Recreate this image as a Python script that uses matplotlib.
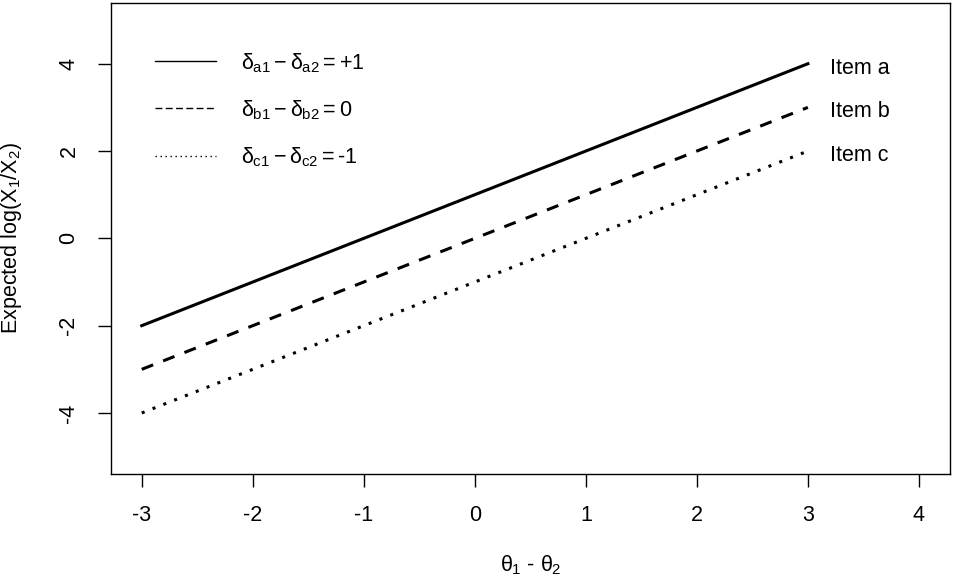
import numpy as np
import matplotlib
matplotlib.use('Agg')
import matplotlib.pyplot as plt
from matplotlib.lines import Line2D

plt.rcParams['font.family'] = ['Liberation Sans', 'DejaVu Sans']
plt.rcParams['mathtext.fontset'] = 'custom'
plt.rcParams['mathtext.rm'] = 'Liberation Sans'
plt.rcParams['mathtext.it'] = 'Liberation Sans'
plt.rcParams['mathtext.bf'] = 'Liberation Sans:bold'
plt.rcParams['axes.unicode_minus'] = False

# data
theta = [-3, -2, -1, 0, 1, 2, 3]
item_a = [-2, -1, 0, 1, 2, 3, 4]
item_b = [-3, -2, -1, 0, 1, 2, 3]
item_c = [-4, -3, -2, -1, 0, 1, 2]
items = ['Item a', 'Item b', 'Item c']
legend_labels = [r'$\delta_{a1} - \delta_{a2} = +1$',
                 r'$\delta_{b1} - \delta_{b2} = 0$',
                 r'$\delta_{c1} - \delta_{c2} = $-1']
xticks = [-3, -2, -1, 0, 1, 2, 3, 4]
yticks = [-4, -2, 0, 2, 4]

fs = 15.5
fig = plt.figure(figsize=(9.54, 5.81), dpi=100)
ax = fig.add_axes([0.116, 0.184, 0.8798, 0.8115])

styles = ['-', (0, (4, 3.5)), (0, (1, 2.8))]
for ys, ls in zip([item_a, item_b, item_c], styles):
    ax.plot(theta, ys, color='black', lw=2.2, linestyle=ls, dash_capstyle='butt')

for ys, lab in zip([item_a, item_b, item_c], items):
    ax.text(theta[-1] + 0.2, ys[-1] - 0.1, lab, fontsize=fs, ha='left', va='center')

handles = [Line2D([], [], color='black', lw=1.0, linestyle='-'),
           Line2D([], [], color='black', lw=1.0, linestyle=(0, (5, 2.4))),
           Line2D([], [], color='black', lw=1.0, linestyle=(0, (1, 2.6)))]
ax.legend(handles, legend_labels, loc='upper left', bbox_to_anchor=(0.0533, 0.8975),
          frameon=False, fontsize=fs, handlelength=2.8, handletextpad=1.16,
          labelspacing=1.09, borderpad=0, borderaxespad=0)

ax.set_xlim(-3.28, 4.28)
ax.set_ylim(-5.4, 5.4)
ax.set_xticks(xticks)
ax.set_yticks(yticks)
ax.tick_params(axis='both', direction='out', length=9.5, width=1, labelsize=fs, pad=13)
plt.setp(ax.get_yticklabels(), rotation=90, va='center')
for s in ax.spines.values():
    s.set_linewidth(1)

ax.set_xlabel(r'$\theta_1$ - $\theta_2$', fontsize=fs)
ax.xaxis.set_label_coords(0.5, -0.193)
ax.xaxis.label.set_verticalalignment('center')
ax.set_ylabel(r'Expected log(X$_1$/X$_2$)', fontsize=fs)
ax.yaxis.set_label_coords(-0.118, 0.5)
ax.yaxis.label.set_verticalalignment('center')

fig.savefig('out.png', dpi=100)
